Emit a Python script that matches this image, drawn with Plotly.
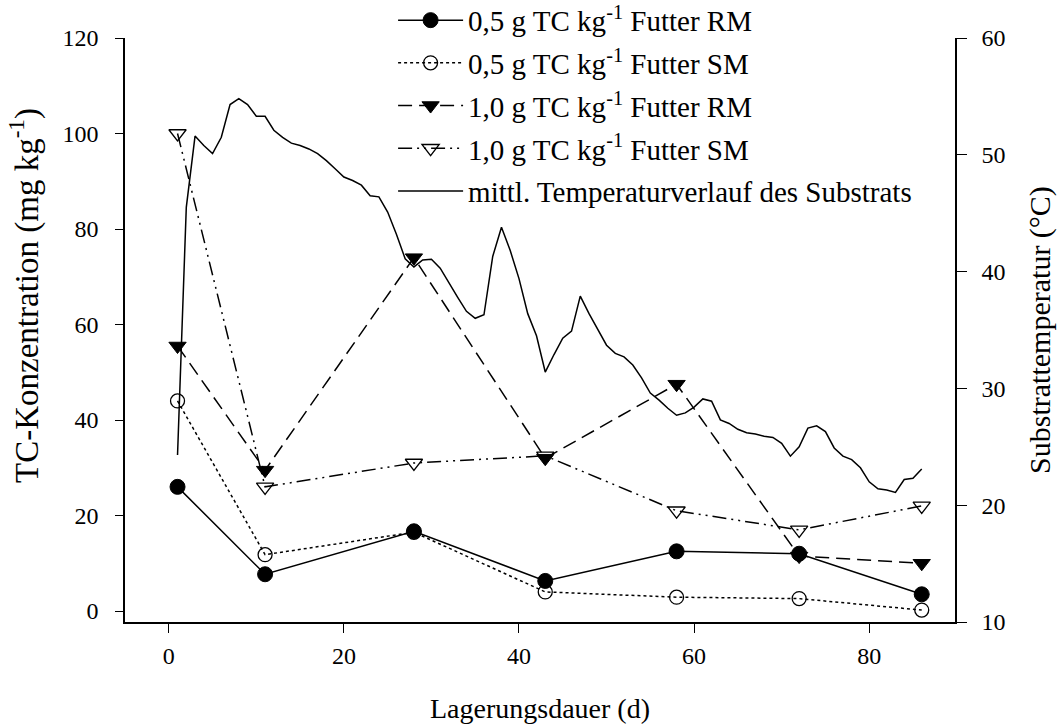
import plotly.graph_objects as go

days = [1, 11, 28, 43, 58, 72, 86]
rm_05 = [26, 7.7, 16.7, 6.3, 12.5, 12, 3.5]
sm_05 = [44, 11.8, 16.5, 4, 2.9, 2.6, 0.2]
rm_10 = [55.5, 29.5, 74, 32, 47.5, 11.5, 10]
sm_10 = [100, 26, 31, 32.5, 21, 17, 22]

t_days = list(range(1, 87))
temp = [24.3, 45.5, 51.6, 50.8, 50.1, 51.5, 54.3, 54.8, 54.3, 53.3,
        53.3, 52.1, 51.5, 51.0, 50.8, 50.5, 50.1, 49.5, 48.8, 48.1,
        47.8, 47.4, 46.5, 46.4, 45.1, 43.2, 41.1, 40.4, 41.0, 41.05,
        40.3, 39.0, 37.8, 36.6, 36.0, 36.3, 41.3, 43.8, 41.8, 39.4,
        36.4, 34.5, 31.4, 32.9, 34.3, 34.9, 37.9, 36.4, 35.0, 33.7,
        33.0, 32.7, 32.0, 30.9, 29.6, 29.0, 28.3, 27.7, 27.9, 28.4,
        29.1, 28.9, 27.3, 27.0, 26.5, 26.2, 26.1, 25.9, 25.8, 25.3,
        24.2, 25.0, 26.6, 26.8, 26.3, 24.9, 24.2, 23.9, 23.2, 22.0,
        21.4, 21.3, 21.1, 22.2, 22.3, 23.1]

names = ["0,5 g TC kg<sup>-1</sup> Futter RM",
         "0,5 g TC kg<sup>-1</sup> Futter SM",
         "1,0 g TC kg<sup>-1</sup> Futter RM",
         "1,0 g TC kg<sup>-1</sup> Futter SM",
         "mittl. Temperaturverlauf des Substrats"]

FONT = "Liberation Serif"
fig = go.Figure()

fig.add_trace(go.Scatter(x=days, y=rm_05, name=names[0], mode="lines+markers",
    line=dict(color="black", width=1.5, dash="solid"),
    marker=dict(symbol="circle", size=15, color="black", line=dict(color="black", width=1)),
    legendgroup="a"))
fig.add_trace(go.Scatter(x=days, y=sm_05, name=names[1], mode="lines+markers",
    line=dict(color="black", width=1.5, dash="dot"),
    marker=dict(symbol="circle-open", size=14, color="black", line=dict(color="black", width=1.3)),
    legendgroup="b"))
fig.add_trace(go.Scatter(x=days, y=rm_10, name=names[2], mode="lines+markers",
    line=dict(color="black", width=1.5, dash="14px,7px"),
    marker=dict(symbol="triangle-down", size=15, color="black", line=dict(color="black", width=1)),
    legendgroup="c"))
fig.add_trace(go.Scatter(x=days, y=sm_10, name=names[3], mode="lines+markers",
    line=dict(color="black", width=1.5, dash="14px,5px,2px,5px,2px,5px"),
    marker=dict(symbol="triangle-down-open", size=15, color="black", line=dict(color="black", width=1.3)),
    legendgroup="d"))
fig.add_trace(go.Scatter(x=t_days, y=temp, name=names[4], mode="lines",
    line=dict(color="black", width=1.5), yaxis="y2", legendgroup="e"))

tickfont = dict(family=FONT, size=24, color="black")
titlefont = dict(family=FONT, size=28, color="black")
fig.update_layout(
    width=1063, height=724,
    margin=dict(l=125, r=108, t=38, b=102, autoexpand=False),
    plot_bgcolor="white", paper_bgcolor="white",
    font=dict(family=FONT, size=24, color="black"),
    xaxis=dict(range=[-5, 89.8], tickvals=[0, 20, 40, 60, 80], showgrid=False, zeroline=False,
               showline=True, linecolor="black", linewidth=1.5, ticks="outside", ticklen=9,
               tickcolor="black", tickfont=tickfont, ticklabelstandoff=2,
               title=dict(text="Lagerungsdauer (d)", font=titlefont, standoff=38)),
    yaxis=dict(range=[-2.3, 120], tickvals=[0, 20, 40, 60, 80, 100, 120], showgrid=False, zeroline=False,
               showline=True, linecolor="black", linewidth=1.5, ticks="outside", ticklen=8,
               tickcolor="black", tickfont=tickfont, ticklabelstandoff=12),
    yaxis2=dict(range=[10, 60], tickvals=[10, 20, 30, 40, 50, 60], overlaying="y", side="right",
                showgrid=False, zeroline=False, showline=True, linecolor="black", linewidth=1.5,
                ticks="outside", ticklen=10, tickcolor="black", tickfont=tickfont, ticklabelstandoff=10,
                title=dict(text="Substrattemperatur (°C)", font=dict(family=FONT, size=30, color="black"),
                           standoff=24)),
    legend=dict(x=0.323, y=1.074, xanchor="left", yanchor="top", bgcolor="rgba(0,0,0,0)",
                font=dict(family=FONT, size=29, color="black"), tracegroupgap=2,
                itemwidth=65),
    showlegend=True,
    annotations=[dict(text="TC-Konzentration (mg kg<sup>-1</sup>)", textangle=-90,
                      xref="paper", yref="paper", x=-0.1205, y=0.56,
                      xanchor="center", yanchor="middle", showarrow=False,
                      font=dict(family=FONT, size=33, color="black"))],
)

fig.write_html("out.html")
